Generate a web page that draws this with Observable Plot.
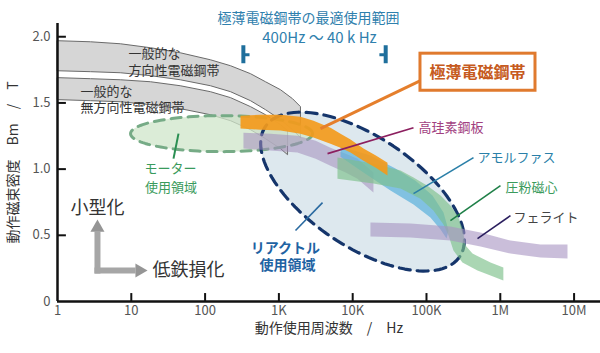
<!DOCTYPE html>
<html><head><meta charset="utf-8">
<script src="https://cdn.jsdelivr.net/npm/d3@7"></script>
<script src="https://cdn.jsdelivr.net/npm/@observablehq/plot@0.6"></script>
<style>
body{margin:0;background:#fff;}
#chart{width:600px;height:353px;}
</style></head><body><div id="chart"></div>
<script>
// ---- axis ticks ----
const xTicks = [1, 10, 100, 1e3, 1e4, 1e5, 1e6, 1e7];
const xTickLabels = ["1", "10", "100", "1K", "10K", "100K", "1M", "10M"];
const yTicks = [0, 0.5, 1, 1.5, 2];
const yTickLabels = ["0", "0.5", "1.0", "1.5", "2.0"];

// ---- material bands (frequency Hz, flux density T) ----
const grainFreq = [1, 2.8, 7.1, 18.2, 46, 118, 221, 412, 658, 1050, 1530, 1960];
const grainTop = [1.970, 1.962, 1.947, 1.917, 1.879, 1.826, 1.781, 1.721, 1.660, 1.600, 1.532, 1.472];
const grainBottom = [1.743, 1.736, 1.728, 1.706, 1.675, 1.630, 1.585, 1.517, 1.449, 1.374, 1.298, 1.238];

const nonGrainFreq = [1, 2.8, 7.1, 18.2, 46, 118, 221, 412, 658, 1050, 1310];
const nonGrainTop = [1.691, 1.683, 1.675, 1.660, 1.630, 1.585, 1.540, 1.472, 1.411, 1.336, 1.291];
const nonGrainBottom = [1.525, 1.517, 1.509, 1.487, 1.457, 1.411, 1.366, 1.298, 1.230, 1.155, 1.109];

const thinFreq = [302, 564, 1052, 1960, 2945, 5000, 6840, 9340, 14000, 20600, 29600];
const thinTop = [1.404, 1.411, 1.411, 1.396, 1.366, 1.313, 1.268, 1.223, 1.155, 1.102, 1.049];
const thinBottom = [1.306, 1.298, 1.291, 1.268, 1.238, 1.192, 1.162, 1.125, 1.064, 1.011, 0.951];

const hiSiFreq = [331, 769, 1786, 3150, 5000, 8020, 11600, 19100];
const hiSiTop = [1.275, 1.268, 1.253, 1.215, 1.162, 1.117, 1.079, 0.974];
const hiSiBottom = [1.155, 1.140, 1.125, 1.079, 1.026, 0.974, 0.928, 0.823];

const amoTopFreq = [6840, 17400, 38000, 71000, 120500, 170000, 199000];
const amoTop = [1.170, 1.102, 1.004, 0.913, 0.800, 0.672, 0.536];
const amoBotFreq = [6840, 14000, 32500, 66700, 113000, 155000, 187000];
const amoBottom = [1.094, 0.974, 0.838, 0.732, 0.634, 0.543, 0.475];

const dustTopFreq = [6220, 19100, 44500, 66700, 103000, 155000, 211000, 263000, 307000, 338000, 420000, 737000, 1.10e6];
const dustTop = [1.087, 1.042, 0.989, 0.936, 0.875, 0.800, 0.725, 0.649, 0.551, 0.423, 0.362, 0.294, 0.257];
const dustBotFreq = [6220, 19100, 44500, 82900, 124000, 170000, 199000, 232000, 307000, 491000, 737000, 1.10e6];
const dustBottom = [0.928, 0.891, 0.853, 0.777, 0.687, 0.581, 0.498, 0.385, 0.294, 0.234, 0.196, 0.158];

const ferFreq = [17400, 60700, 211000, 539000, 1.374e6, 3.5e6, 8.14e6];
const ferTop = [0.596, 0.589, 0.566, 0.521, 0.460, 0.430, 0.430];
const ferBottom = [0.491, 0.483, 0.460, 0.415, 0.362, 0.332, 0.325];

// ---- usage regions: centre [Hz, T], axes [decades, T] ----
const motorCenter = [167, 1.268];
const motorAxisA = [1.233, 0];
const motorAxisB = [0, 0.136];
const reactorCenter = [13600, 0.830];
const reactorAxisA = [1.317, -0.491];
const reactorAxisB = [-0.415, -0.345];

// ---- optimum range markers ----
const rangeBarFreq = [330, 28000];
const rangeTickFreq = [400, 23000];
const rangeBarB = [1.796, 1.932];
const rangeTickB = 1.864;

// ---- texts ----
const titleText = ["極薄電磁鋼帯の最適使用範囲", "400Hz 〜 40 k Hz"];
const titleFreq = [2518, 3548];
const titleB = [2.136, 1.992];

const bandLabelText = ["一般的な", "方向性電磁鋼帯", "一般的な", "無方向性電磁鋼帯"];
const bandLabelFreq = [9.16, 9.16, 2.05, 2.05];
const bandLabelB = [1.872, 1.743, 1.585, 1.464];

const thinLabel = "極薄電磁鋼帯";
const thinLabelFreq = 491000;
const thinLabelB = 1.728;
const thinBoxFreq = [82900, 3.0e6];
const thinBoxB = [1.592, 1.872];

const calloutText = ["高珪素鋼板", "アモルファス", "圧粉磁心", "フェライト"];
const calloutFreq = [78000, 491000, 1.175e6, 1.51e6];
const calloutB = [1.313, 1.087, 0.860, 0.634];

const leaderFrom = [[82900, 1.668], [66700, 1.313], [433600, 1.087], [1.006e6, 0.875], [1.374e6, 0.649], [43.6, 1.268], [3900, 0.747]];
const leaderTo = [[3660, 1.306], [4560, 1.117], [66700, 0.815], [211000, 0.611], [491000, 0.475], [37.3, 1.079], [1679, 0.536]];

const motorText = ["モーター", "使用領域"];
const motorTextFreq = [34.0, 34.5];
const motorTextB = [1.004, 0.860];
const reactorText = ["リアクトル", "使用領域"];
const reactorTextFreq = [1228, 1308];
const reactorTextB = [0.400, 0.272];

const trendText = ["小型化", "低鉄損化"];
const trendFreq = [1.50, 19.4];
const trendB = [0.702, 0.234];
const arrowShaftV = {freq: [3.48, 3.48], b: [0.211, 0.528]};
const arrowShaftH = {freq: [3.17, 11.4], b: [0.234, 0.234]};
const arrowHeadFreq = [3.48, 12.9];
const arrowHeadB = [0.558, 0.234];
const arrowHeadDir = [0, 90];

// ---- helpers ----
function band(topF, topB, botF, botB) {
  const pts = topF.map((f, i) => ({x: f, y: topB[i]}));
  for (let i = botF.length - 1; i >= 0; i--) pts.push({x: botF[i], y: botB[i]});
  return pts;
}
function ellipse(center, a, b) {
  const lc = Math.log10(center[0]);
  const pts = [];
  for (let k = 0; k < 120; k++) {
    const t = 2 * Math.PI * k / 120;
    pts.push({
      x: Math.pow(10, lc + Math.cos(t) * a[0] + Math.sin(t) * b[0]),
      y: center[1] + Math.cos(t) * a[1] + Math.sin(t) * b[1]
    });
  }
  return pts;
}
const pts = (F, B) => F.map((f, i) => ({x: f, y: B[i]}));

const grainPoly = band(grainFreq, grainTop, grainFreq, grainBottom);
const nonGrainPoly = band(nonGrainFreq, nonGrainTop, nonGrainFreq, nonGrainBottom);
const thinPoly = band(thinFreq, thinTop, thinFreq, thinBottom);
const hiSiPoly = band(hiSiFreq, hiSiTop, hiSiFreq, hiSiBottom);
const amoPoly = band(amoTopFreq, amoTop, amoBotFreq, amoBottom);
const dustPoly = band(dustTopFreq, dustTop, dustBotFreq, dustBottom);
const ferPoly = band(ferFreq, ferTop, ferFreq, ferBottom);
const motorPoly = ellipse(motorCenter, motorAxisA, motorAxisB);
const reactorPoly = ellipse(reactorCenter, reactorAxisA, reactorAxisB);

const leaders = leaderFrom.map((p, i) => ({x1: p[0], y1: p[1], x2: leaderTo[i][0], y2: leaderTo[i][1]}));
const leaderColors = ["#e57f2c", "#8c1f5f", "#2a7fa8", "#1f8048", "#2b1f5f", "#2a8f52", "#2a6aa0"];
const leaderWidths = [3, 1.6, 1.6, 1.6, 1.6, 2, 1.6];
const calloutColors = ["#a1407f", "#2a7fa8", "#3a9b5c", "#444444"];

const poly = (data, o) => Plot.line(data, {x: "x", y: "y", curve: "linear-closed", ...o});
const JP = "'Noto Sans CJK JP', 'Noto Sans', sans-serif";

const chart = Plot.plot({
  width: 600, height: 353,
  marginLeft: 57, marginRight: 0, marginTop: 23, marginBottom: 52,
  x: {type: "log", domain: [1, 2.28e7]},
  y: {domain: [0, 2.1]},
  style: {fontFamily: JP, background: "#fff", overflow: "visible"},
  marks: [
    // usage region fills
    poly(reactorPoly, {fill: "#dde8ee", stroke: "none"}),
    // general steel bands
    poly(grainPoly, {fill: "#cdcdcd", fillOpacity: 0.82, stroke: "#6a6a6a", strokeWidth: 1}),
    poly(nonGrainPoly, {fill: "#cdcdcd", fillOpacity: 0.82, stroke: "#6a6a6a", strokeWidth: 1}),
    poly(motorPoly, {fill: "#cfe6c9", fillOpacity: 0.75, stroke: "#76ab86", strokeWidth: 3, strokeDasharray: "10,7"}),
    poly(reactorPoly, {fill: "none", stroke: "#15356b", strokeWidth: 3.2, strokeDasharray: "11,7"}),
    // materials
    poly(hiSiPoly, {fill: "#a28cbc", fillOpacity: 0.55, stroke: "none"}),
    poly(amoPoly, {fill: "#5db2dc", fillOpacity: 0.72, stroke: "none"}),
    poly(dustPoly, {fill: "#7cc08b", fillOpacity: 0.65, stroke: "none"}),
    poly(ferPoly, {fill: "#a792c2", fillOpacity: 0.6, stroke: "none"}),
    poly(thinPoly, {fill: "#f39a1c", fillOpacity: 0.92, stroke: "none"}),
    // axes
    Plot.ruleY([0], {stroke: "#111", strokeWidth: 2.5}),
    Plot.ruleX([1], {y1: 0, y2: 2.1, stroke: "#111", strokeWidth: 2.5}),
    Plot.ruleX(xTicks.slice(1), {y1: 0, y2: 0.06, stroke: "#111", strokeWidth: 2}),
    Plot.ruleY(yTicks.slice(1), {x1: 1, x2: 1.32, stroke: "#111", strokeWidth: 2}),
    Plot.axisX(xTicks, {tickFormat: d => xTickLabels[xTicks.indexOf(d)], tickSize: 0, tickPadding: 4, fontSize: 13, color: "#555", label: null}),
    Plot.axisY(yTicks, {tickFormat: d => yTickLabels[yTicks.indexOf(d)], tickSize: 0, tickPadding: 7, fontSize: 13, color: "#555", label: null}),
    Plot.text(["動作磁束密度　Bm　/　T"], {frameAnchor: "left", textAnchor: "middle", dx: -44, rotate: -90, fontSize: 14, fill: "#333"}),
    Plot.text(["動作使用周波数　/　Hz"], {frameAnchor: "bottom", textAnchor: "middle", dy: 31, fontSize: 14, fill: "#333"}),
    // optimum range
    Plot.ruleX(rangeBarFreq, {y1: rangeBarB[0], y2: rangeBarB[1], stroke: "#1f6f9c", strokeWidth: 4}),
    Plot.link(rangeBarFreq, {x1: d => d, x2: (d, i) => rangeTickFreq[i], y1: rangeTickB, y2: rangeTickB, stroke: "#1f6f9c", strokeWidth: 3}),
    Plot.text(titleText, {x: (d, i) => titleFreq[i], y: (d, i) => titleB[i], text: d => d, fontSize: (d, i) => i === 0 ? 14 : 15, fill: "#2f80ad"}),
    // leaders
    Plot.link(leaders, {x1: "x1", y1: "y1", x2: "x2", y2: "y2", stroke: (d, i) => leaderColors[i], strokeWidth: (d, i) => leaderWidths[i]}),
    // thin strip box
    Plot.rect([0], {x1: thinBoxFreq[0], x2: thinBoxFreq[1], y1: thinBoxB[0], y2: thinBoxB[1], fill: "#fff", stroke: "#e07a2e", strokeWidth: 3}),
    Plot.text([thinLabel], {x: thinLabelFreq, y: thinLabelB, fontSize: 16, fontWeight: "bold", fill: "#c65a20"}),
    // labels
    Plot.text(bandLabelText, {x: (d, i) => bandLabelFreq[i], y: (d, i) => bandLabelB[i], text: d => d, textAnchor: "start", fontSize: 13, fill: "#333"}),
    ...calloutText.map((t, i) => Plot.text([t], {x: calloutFreq[i], y: calloutB[i], textAnchor: "start", fontSize: 13, fill: calloutColors[i]})),
    Plot.text(motorText, {x: (d, i) => motorTextFreq[i], y: (d, i) => motorTextB[i], text: d => d, fontSize: 13, fill: "#3a9b5c"}),
    Plot.text(reactorText, {x: (d, i) => reactorTextFreq[i], y: (d, i) => reactorTextB[i], text: d => d, fontSize: 14, fontWeight: "bold", fill: "#1f63a3"}),
    // trend arrows
    Plot.line(pts(arrowShaftV.freq, arrowShaftV.b), {x: "x", y: "y", stroke: "#a6a6a6", strokeWidth: 6, strokeLinecap: "butt"}),
    Plot.line(pts(arrowShaftH.freq, arrowShaftH.b), {x: "x", y: "y", stroke: "#a6a6a6", strokeWidth: 6, strokeLinecap: "butt"}),
    Plot.dot(arrowHeadFreq, {x: d => d, y: (d, i) => arrowHeadB[i], symbol: "triangle", r: 5.2, rotate: (d, i) => arrowHeadDir[i], fill: "#959595", stroke: "none"}),
    Plot.text(trendText, {x: (d, i) => trendFreq[i], y: (d, i) => trendB[i], text: d => d, textAnchor: "start", fontSize: 18, fill: "#333"})
  ]
});
document.getElementById("chart").appendChild(chart);
</script></body></html>
